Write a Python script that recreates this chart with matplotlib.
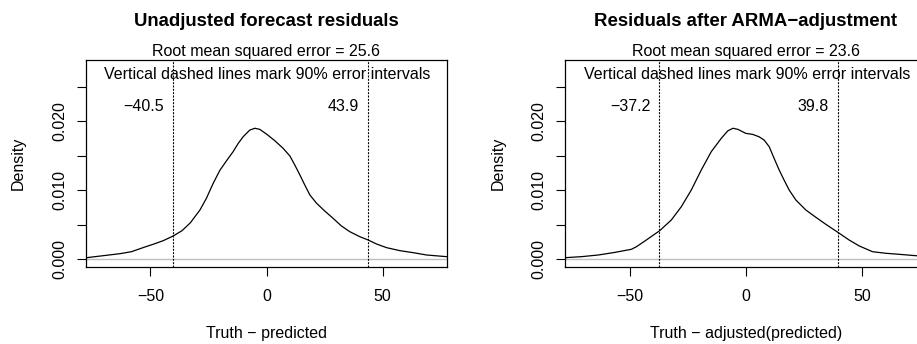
from matplotlib import pyplot as plt

plt.rcParams['font.family'] = ['Liberation Sans', 'DejaVu Sans']

# Density curves
left_x = [-80, -77.6, -70.4, -63.2, -58.2, -53.2, -48.9, -44.5, -40.2, -36.4, -32.8,
          -28.7, -25.9, -23.0, -20.1, -17.2, -14.4, -12.2, -10.0, -7.2, -5.0, -2.9, 0,
          3.6, 7.2, 10.1, 12.2, 14.4, 16.5, 18.7, 21.6, 25.1, 28.7, 32.3, 35.9, 40.2,
          43.8, 47.4, 51.7, 57.5, 63.2, 69.0, 77.6, 80]
left_d = [0.0002, 0.00023, 0.00052, 0.00081, 0.0011, 0.00169, 0.00217, 0.0027, 0.00338,
          0.00415, 0.0053, 0.00714, 0.00884, 0.0110, 0.0129, 0.0143, 0.0156, 0.0168,
          0.0178, 0.01874, 0.0190, 0.01884, 0.01816, 0.01719, 0.01608, 0.01497, 0.01367,
          0.01222, 0.01077, 0.00932, 0.00812, 0.0070, 0.00594, 0.00483, 0.0040, 0.00328,
          0.0028, 0.00222, 0.00169, 0.00125, 0.00096, 0.00062, 0.00038, 0.0003]

right_x = [-80, -78.0, -70.8, -63.6, -56.4, -49.3, -47.1, -43.5, -37.1, -32.1, -27.8,
           -23.5, -19.2, -14.9, -10.6, -7.7, -5.5, -3.4, 0, 2.9, 5.7, 7.9, 10.1, 12.2,
           14.4, 16.5, 18.7, 21.6, 25.9, 30.2, 34.5, 39.9, 44.5, 48.9, 54.6, 60.3, 66.1,
           73.3, 80]
right_d = [0.0002, 0.00023, 0.00038, 0.00062, 0.0010, 0.00145, 0.00183, 0.00265, 0.00415,
           0.0057, 0.00762, 0.01004, 0.01294, 0.0156, 0.01753, 0.01864, 0.0190, 0.01884,
           0.01826, 0.01812, 0.01777, 0.01729, 0.01632, 0.01464, 0.01294, 0.01149,
           0.01004, 0.00859, 0.00714, 0.00609, 0.00507, 0.00386, 0.0028, 0.00193, 0.0011,
           0.00087, 0.00072, 0.00052, 0.0004]

titles = ['Unadjusted forecast residuals', 'Residuals after ARMA\u2212adjustment']
xlabels = ['Truth \u2212 predicted', 'Truth \u2212 adjusted(predicted)']
rmse = [25.6, 23.6]
intervals = [(-40.5, 43.9), (-37.2, 39.8)]

W, H = 917, 344
fig = plt.figure(figsize=(W / 100, H / 100), dpi=100)

panels = [(left_x, left_d, 86), (right_x, right_d, 565.3)]
for i, (xs, ds, x0) in enumerate(panels):
    ax = fig.add_axes([x0 / W, 1 - 267 / H, 361 / W, 207 / H])
    ax.plot(xs, ds, color='black', lw=0.9)
    ax.axhline(0, color='#bebebe', lw=1.0, zorder=1)
    lo, hi = intervals[i]
    for v in (lo, hi):
        ax.axvline(v, color='black', lw=0.8, ls=(0, (1.8, 1.2)))
        ax.annotate(f'{v:.1f}'.replace('-', '\u2212'), xy=(v, 0.0215),
                    xytext=(-6.5, 0), textcoords='offset points',
                    ha='right', va='baseline', fontsize=11.5)
    ax.text(0.5, 0.0261, 'Vertical dashed lines mark 90% error intervals',
            ha='center', va='baseline', fontsize=11.5)
    ax.set_xlim(-77.8, 77.8)
    ax.set_ylim(-0.00112, 0.0289)
    ax.set_xticks([-50, 0, 50])
    ax.set_xticklabels(['\u221250', '0', '50'])
    ax.set_yticks([0, 0.005, 0.010, 0.015, 0.020, 0.025])
    ax.set_yticklabels(['0.000', '', '0.010', '', '0.020', ''], rotation=90, va='center')
    ax.tick_params(direction='out', length=6.5, width=0.8, labelsize=11.5)
    ax.tick_params(axis='x', pad=9)
    ax.tick_params(axis='y', pad=7)
    for s in ax.spines.values():
        s.set_linewidth(0.9)
    ax.text(0.5, 1.017, f'Root mean squared error = {rmse[i]}', transform=ax.transAxes,
            ha='center', va='baseline', fontsize=11.5)
    ax.text(0.5, -0.3444, xlabels[i], transform=ax.transAxes,
            ha='center', va='baseline', fontsize=11.5)
    ax.text(-0.1864, 0.5, 'Density', transform=ax.transAxes, rotation=90,
            ha='center', va='center', fontsize=11.5)
    fig.text((x0 + 180.5) / W, 1 - 26.5 / H, titles[i], ha='center', va='baseline',
             fontsize=13.4, fontweight='bold')

fig.savefig('out.png', dpi=100)
